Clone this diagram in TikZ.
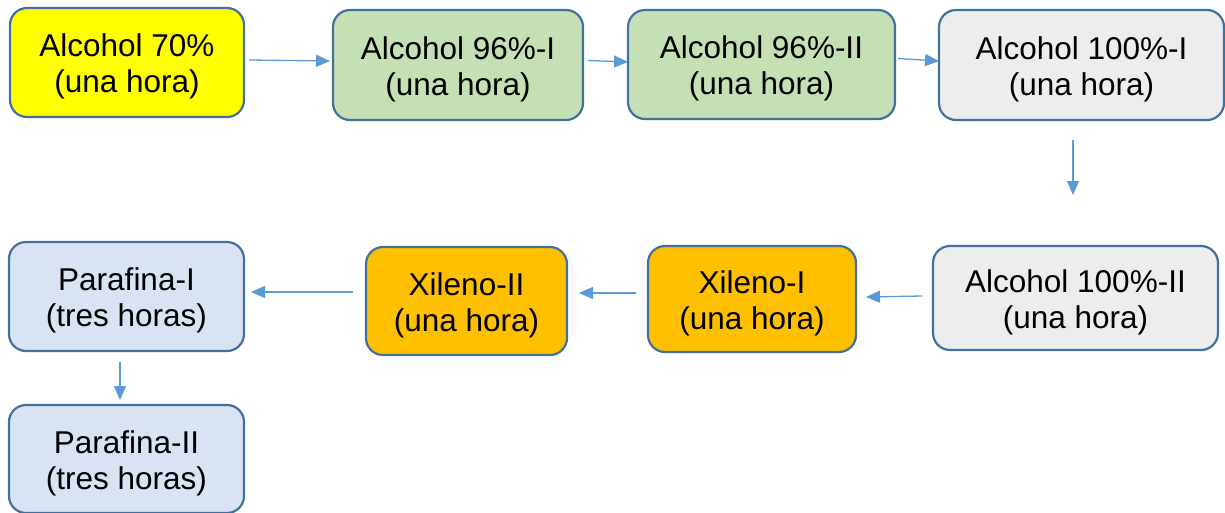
\documentclass[tikz,border=0pt]{standalone}
\usepackage{fontspec}
\setmainfont{Liberation Sans}
\usetikzlibrary{arrows.meta,calc}
\definecolor{bordc}{HTML}{41719C}
\definecolor{arrc}{HTML}{5B9BD5}
\definecolor{yel}{HTML}{FFFF00}
\definecolor{grn}{HTML}{C5E0B4}
\definecolor{gry}{HTML}{EDEDED}
\definecolor{org}{HTML}{FFC000}
\definecolor{blu}{HTML}{DAE3F3}
\newcommand\twolines[2]{\raisebox{-5pt}[\height][\depth]{\begin{tabular}{@{}c@{}}#1\\#2\end{tabular}}}
\begin{document}
\begin{tikzpicture}[x=1pt,y=-1pt,
  box/.style={draw=bordc, line width=2.2pt, rounded corners=17pt,
    inner sep=0pt, outer sep=0pt, font=\fontsize{31.5}{36}\selectfont},
  arr/.style={draw=arrc, line width=1.3pt, -{Triangle[length=14pt,width=12pt]}}]
\useasboundingbox (0,0) rectangle (1225,512);
\node[box, fill=yel, minimum width=234pt, minimum height=109pt] (n1) at (127,62.5) {\twolines{Alcohol 70\%}{(una hora)}};
\node[box, fill=grn, minimum width=250pt, minimum height=110pt] (n2) at (458,65) {\twolines{Alcohol 96\%-I}{(una hora)}};
\node[box, fill=grn, minimum width=267pt, minimum height=109pt] (n3) at (761.5,64.5) {\twolines{Alcohol 96\%-II}{(una hora)}};
\node[box, fill=gry, minimum width=285pt, minimum height=110pt] (n4) at (1081.5,65) {\twolines{Alcohol 100\%-I}{(una hora)}};
\node[box, fill=gry, minimum width=285pt, minimum height=104pt] (n5) at (1075.5,298) {\twolines{Alcohol 100\%-II}{(una hora)}};
\node[box, fill=org, minimum width=208pt, minimum height=106pt] (n6) at (752,299) {\twolines{Xileno-I}{(una hora)}};
\node[box, fill=org, minimum width=201pt, minimum height=108pt] (n7) at (466.5,301) {\twolines{Xileno-II}{(una hora)}};
\node[box, fill=blu, minimum width=235pt, minimum height=109pt] (n8) at (126.5,296.5) {\twolines{Parafina-I}{(tres horas)}};
\node[box, fill=blu, minimum width=235pt, minimum height=108pt] (n9) at (126.5,459) {\twolines{Parafina-II}{(tres horas)}};
\draw[arr] ($(n1.east)+(5,-2.5)$) -- ($(n2.west)+(-3,-4)$);
\draw[arr] ($(n2.east)+(5,-4.5)$) -- ($(n3.west)+(0,-2.5)$);
\draw[arr] ($(n3.east)+(3,-6)$) -- ($(n4.west)+(0,-4)$);
\draw[arr] ($(n4.south)+(-8.5,20)$) -- ($(n5.north)+(-2.5,-51)$);
\draw[arr] ($(n5.west)+(-11,-2)$) -- ($(n6.east)+(10,-2)$);
\draw[arr] ($(n6.west)+(-12,-6)$) -- ($(n7.east)+(12,-8)$);
\draw[arr] ($(n7.west)+(-13,-9)$) -- ($(n8.east)+(7,-4.5)$);
\draw[arr] ($(n8.south)+(-6.5,11)$) -- ($(n9.north)+(-6.5,-5)$);
\end{tikzpicture}
\end{document}
